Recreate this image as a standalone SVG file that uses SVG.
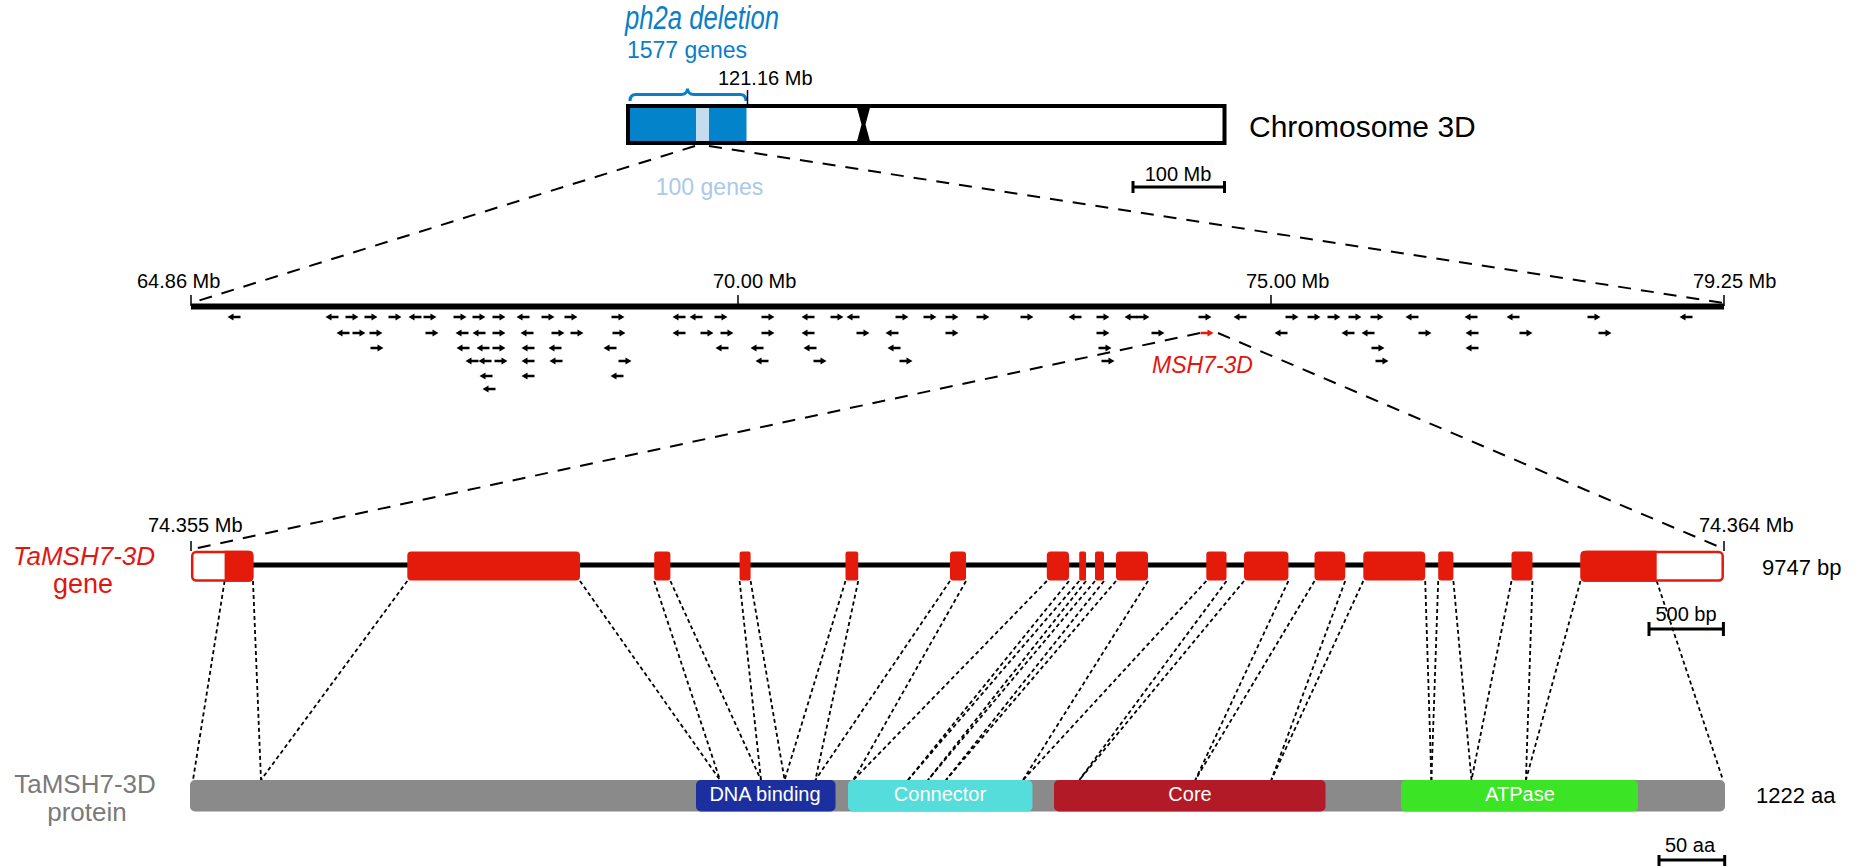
<svg xmlns="http://www.w3.org/2000/svg" width="1860" height="868" viewBox="0 0 1860 868">
<style>
text{font-family:"Liberation Sans",Arial,sans-serif;}
.lbl{font-size:20px;fill:#000;}
.dash{stroke:#000;stroke-width:2;stroke-dasharray:13 10;fill:none;}
.dot{stroke:#000;stroke-width:1.8;stroke-dasharray:4 3;fill:none;}
.ax{stroke:#000;fill:none;}
.exon{fill:#E41B0B;}
.dom{font-size:20px;fill:#fff;text-anchor:middle;}
</style>
<defs>
<path id="R" d="M-6.5,-1.2 H0.5 V-3.4 L6.5,0 L0.5,3.4 V1.2 H-6.5 Z"/>
<path id="L" d="M6.5,-1.2 H-0.5 V-3.4 L-6.5,0 L-0.5,3.4 V1.2 H6.5 Z"/>
</defs>

<g id="connectors">
<line class="dash" x1="695" y1="146" x2="191" y2="303"/>
<line class="dash" x1="709" y1="146" x2="1724" y2="303"/>
<line class="dash" x1="1200" y1="333" x2="193" y2="549"/>
<line class="dash" x1="1218" y1="333" x2="1724" y2="549"/>
<g class="dot">
<line x1="224.6" y1="581" x2="193" y2="780"/>
<line x1="253" y1="581" x2="261" y2="780"/>
<line x1="407.3" y1="581" x2="261" y2="780"/>
<line x1="580" y1="581" x2="720" y2="780"/>
<line x1="654.2" y1="581" x2="720" y2="780"/>
<line x1="670.4" y1="581" x2="761" y2="780"/>
<line x1="739.6" y1="581" x2="761" y2="780"/>
<line x1="750.6" y1="581" x2="784.6" y2="780"/>
<line x1="845.5" y1="581" x2="784.6" y2="780"/>
<line x1="858.2" y1="581" x2="815.4" y2="780"/>
<line x1="950" y1="581" x2="815.4" y2="780"/>
<line x1="966" y1="581" x2="853.4" y2="780"/>
<line x1="1046.8" y1="581" x2="853.4" y2="780"/>
<line x1="1069" y1="581" x2="908" y2="780"/>
<line x1="1079.2" y1="581" x2="908" y2="780"/>
<line x1="1086" y1="581" x2="928" y2="780"/>
<line x1="1095" y1="581" x2="928" y2="780"/>
<line x1="1104" y1="581" x2="946" y2="780"/>
<line x1="1116" y1="581" x2="946" y2="780"/>
<line x1="1148" y1="581" x2="1023" y2="780"/>
<line x1="1206.3" y1="581" x2="1023" y2="780"/>
<line x1="1226.5" y1="581" x2="1079.3" y2="780"/>
<line x1="1244" y1="581" x2="1079.3" y2="780"/>
<line x1="1288.4" y1="581" x2="1195.3" y2="780"/>
<line x1="1314.5" y1="581" x2="1195.3" y2="780"/>
<line x1="1345.2" y1="581" x2="1271.3" y2="780"/>
<line x1="1363.3" y1="581" x2="1271.3" y2="780"/>
<line x1="1425.2" y1="581" x2="1431.4" y2="780"/>
<line x1="1438.2" y1="581" x2="1431.4" y2="780"/>
<line x1="1453.4" y1="581" x2="1471.5" y2="780"/>
<line x1="1511.5" y1="581" x2="1471.5" y2="780"/>
<line x1="1532.5" y1="581" x2="1525.9" y2="780"/>
<line x1="1580.5" y1="581" x2="1525.9" y2="780"/>
<line x1="1656.7" y1="581" x2="1723" y2="780"/>
</g>
</g>

<g id="chromosome">
<text x="625" y="29" textLength="154" lengthAdjust="spacingAndGlyphs" style="font-size:33px;font-style:italic;fill:#0A7EC8">ph2a deletion</text>
<text x="687" y="58" style="font-size:23px;fill:#0A7EC8;text-anchor:middle">1577 genes</text>
<path d="M630,101 Q630,94.5 636,94.5 L681,94.5 Q687,94.5 687.5,88.5 Q688,94.5 694,94.5 L740,94.5 Q746,94.5 746,101" fill="none" stroke="#0A7EC8" stroke-width="3"/>
<text class="lbl" x="718" y="85">121.16 Mb</text>
<line class="ax" x1="747.5" y1="90" x2="747.5" y2="104" stroke-width="1.5"/>
<rect x="630" y="106" width="228" height="37" fill="#fff"/>
<rect x="630" y="106" width="116.5" height="37" fill="#0383CA"/>
<rect x="696" y="106" width="13" height="37" fill="#C4DCF0"/>
<path d="M857,106 H628 V143 H857" fill="none" stroke="#000" stroke-width="4"/>
<rect x="869" y="106" width="355.5" height="37" fill="#fff"/>
<path d="M870,106 H1224.5 V143 H870" fill="none" stroke="#000" stroke-width="4"/>
<path d="M856,104 L871,104 L865.5,124.5 L871,145 L856,145 L861.5,124.5 Z" fill="#000"/>
<text x="1249" y="137" style="font-size:30px;fill:#000">Chromosome 3D</text>
<text x="709.5" y="195" style="font-size:23px;fill:#A9C9EA;text-anchor:middle">100 genes</text>
<text class="lbl" x="1178" y="181" text-anchor="middle">100 Mb</text>
<path class="ax" d="M1133,187 H1224.5 M1133,181 V193 M1224.5,181 V193" stroke-width="3"/>
</g>

<g id="region-axis">
<line class="ax" x1="191" y1="306.5" x2="1724" y2="306.5" stroke-width="6"/>
<path class="ax" d="M191,295 V306 M738,295 V306 M1271,295 V306 M1724,295 V306" stroke-width="1.5"/>
<text class="lbl" x="137" y="288">64.86 Mb</text>
<text class="lbl" x="713" y="288">70.00 Mb</text>
<text class="lbl" x="1246" y="288">75.00 Mb</text>
<text class="lbl" x="1693" y="288">79.25 Mb</text>
</g>

<g id="genes">
<g transform="translate(0,317)">
<use href="#L" x="234"/><use href="#L" x="332"/><use href="#R" x="352"/><use href="#R" x="371"/><use href="#R" x="395"/><use href="#L" x="415"/><use href="#R" x="430"/><use href="#R" x="460"/><use href="#R" x="479"/><use href="#R" x="499"/><use href="#L" x="523"/><use href="#R" x="548"/><use href="#R" x="571"/><use href="#R" x="618"/><use href="#L" x="679"/><use href="#L" x="696"/><use href="#R" x="721"/><use href="#R" x="768"/><use href="#L" x="808"/><use href="#R" x="837"/><use href="#L" x="853"/><use href="#R" x="902"/><use href="#R" x="930"/><use href="#R" x="952"/><use href="#R" x="983"/><use href="#R" x="1027"/><use href="#L" x="1075"/><use href="#R" x="1103"/><use href="#L" x="1131"/><use href="#R" x="1143"/><use href="#R" x="1205"/><use href="#L" x="1240"/><use href="#R" x="1292"/><use href="#R" x="1314"/><use href="#R" x="1334"/><use href="#R" x="1355"/><use href="#R" x="1377"/><use href="#L" x="1412"/><use href="#L" x="1471"/><use href="#L" x="1513"/><use href="#R" x="1594"/><use href="#L" x="1686"/>
</g>
<g transform="translate(0,333)">
<use href="#L" x="343"/><use href="#R" x="359"/><use href="#R" x="376"/><use href="#R" x="432"/><use href="#L" x="462"/><use href="#L" x="479"/><use href="#R" x="499"/><use href="#L" x="527"/><use href="#R" x="558"/><use href="#R" x="577"/><use href="#R" x="619"/><use href="#L" x="679"/><use href="#R" x="707"/><use href="#R" x="727"/><use href="#R" x="768"/><use href="#L" x="808"/><use href="#R" x="863"/><use href="#L" x="892"/><use href="#R" x="952"/><use href="#R" x="1103"/><use href="#R" x="1158"/><use href="#L" x="1281"/><use href="#L" x="1348"/><use href="#L" x="1368"/><use href="#R" x="1425"/><use href="#L" x="1472"/><use href="#R" x="1526"/><use href="#R" x="1605"/>
</g>
<g transform="translate(0,348)">
<use href="#R" x="377"/><use href="#L" x="463"/><use href="#L" x="483"/><use href="#R" x="499"/><use href="#L" x="528"/><use href="#L" x="555"/><use href="#L" x="610"/><use href="#L" x="722"/><use href="#L" x="757"/><use href="#L" x="810"/><use href="#L" x="894"/><use href="#R" x="1105"/><use href="#R" x="1378"/><use href="#L" x="1472"/>
</g>
<g transform="translate(0,361)">
<use href="#L" x="472"/><use href="#L" x="485"/><use href="#R" x="501"/><use href="#L" x="528"/><use href="#L" x="556"/><use href="#R" x="625"/><use href="#L" x="762"/><use href="#R" x="820"/><use href="#R" x="906"/><use href="#R" x="1108"/><use href="#R" x="1382"/>
</g>
<g transform="translate(0,376)">
<use href="#L" x="486"/><use href="#L" x="528"/><use href="#L" x="617"/>
</g>
<g transform="translate(0,389)">
<use href="#L" x="489"/>
</g>
</g>

<g id="msh7">
<use href="#R" x="1207" y="333" fill="#E41B0B"/>
<text x="1152" y="373" style="font-size:23px;font-style:italic;fill:#E3150F">MSH7-3D</text>
</g>

<g id="gene-structure">
<text class="lbl" x="148" y="532">74.355 Mb</text>
<text class="lbl" x="1699" y="532">74.364 Mb</text>
<path class="ax" d="M191,541 V551 M1724,541 V551" stroke-width="1.5"/>
<line class="ax" x1="191" y1="565" x2="1724" y2="565" stroke-width="5"/>
<text x="84" y="565" style="font-size:26px;font-style:italic;fill:#E3150F;text-anchor:middle">TaMSH7-3D</text>
<text x="83" y="593" style="font-size:27px;fill:#E3150F;text-anchor:middle">gene</text>
<rect x="192.2" y="552" width="60" height="28.5" rx="4" fill="#fff" stroke="#E41B0B" stroke-width="2.5"/>
<path class="exon" d="M224.6,550.8 H249 Q253.4,550.8 253.4,555 V577.5 Q253.4,581.7 249,581.7 H224.6 Z"/>
<rect class="exon" x="407.3" y="551.5" width="172.7" height="29" rx="4"/>
<rect class="exon" x="654.2" y="551.5" width="16.2" height="29" rx="3"/>
<rect class="exon" x="739.6" y="551.5" width="11" height="29" rx="2"/>
<rect class="exon" x="845.5" y="551.5" width="12.7" height="29" rx="2"/>
<rect class="exon" x="950" y="551.5" width="16" height="29" rx="3"/>
<rect class="exon" x="1046.8" y="551.5" width="22.2" height="29" rx="4"/>
<rect class="exon" x="1079.2" y="551.5" width="6.8" height="29" rx="1.5"/>
<rect class="exon" x="1095" y="551.5" width="9" height="29" rx="2"/>
<rect class="exon" x="1116" y="551.5" width="32" height="29" rx="4"/>
<rect class="exon" x="1206.3" y="551.5" width="20.2" height="29" rx="3"/>
<rect class="exon" x="1244" y="551.5" width="44.4" height="29" rx="4"/>
<rect class="exon" x="1314.5" y="551.5" width="30.7" height="29" rx="4"/>
<rect class="exon" x="1363.3" y="551.5" width="61.9" height="29" rx="4"/>
<rect class="exon" x="1438.2" y="551.5" width="15.2" height="29" rx="3"/>
<rect class="exon" x="1511.5" y="551.5" width="21" height="29" rx="3"/>
<rect x="1581.7" y="552" width="141" height="28.5" rx="4" fill="#fff" stroke="#E41B0B" stroke-width="2.5"/>
<path class="exon" d="M1656.7,550.8 H1585 Q1580.5,550.8 1580.5,555 V577.5 Q1580.5,581.7 1585,581.7 H1656.7 Z"/>
<text x="1762" y="575" style="font-size:22px;fill:#000">9747 bp</text>
<text class="lbl" x="1686" y="621" text-anchor="middle">500 bp</text>
<path class="ax" d="M1649,629 H1723.4 M1649,622 V636 M1723.4,622 V636" stroke-width="3"/>
</g>

<g id="protein">
<text x="85" y="793" style="font-size:26px;fill:#7A7A7A;text-anchor:middle">TaMSH7-3D</text>
<text x="87" y="821" style="font-size:26px;fill:#7A7A7A;text-anchor:middle">protein</text>
<rect x="190" y="780" width="1535" height="31.5" rx="5" fill="#8A8A8A"/>
<g id="dom-dna"><rect x="696" y="780" width="139.5" height="31.5" rx="5" fill="#1C2F9F"/><text class="dom" x="765" y="801">DNA binding</text></g>
<g id="dom-connector"><rect x="848" y="780" width="184.5" height="31.5" rx="5" fill="#55DDDC"/><text class="dom" x="940" y="801">Connector</text></g>
<g id="dom-core"><rect x="1054" y="780" width="271.5" height="31.5" rx="5" fill="#B11A26"/><text class="dom" x="1190" y="801">Core</text></g>
<g id="dom-atpase"><rect x="1401" y="780" width="237" height="31.5" rx="5" fill="#3BE525"/><text class="dom" x="1520" y="801">ATPase</text></g>
<text x="1756" y="803" style="font-size:22px;fill:#000">1222 aa</text>
<text class="lbl" x="1690" y="852" text-anchor="middle">50 aa</text>
<path class="ax" d="M1659,860 H1724.7 M1659,855 V866 M1724.7,855 V866" stroke-width="3"/>
</g>
</svg>
